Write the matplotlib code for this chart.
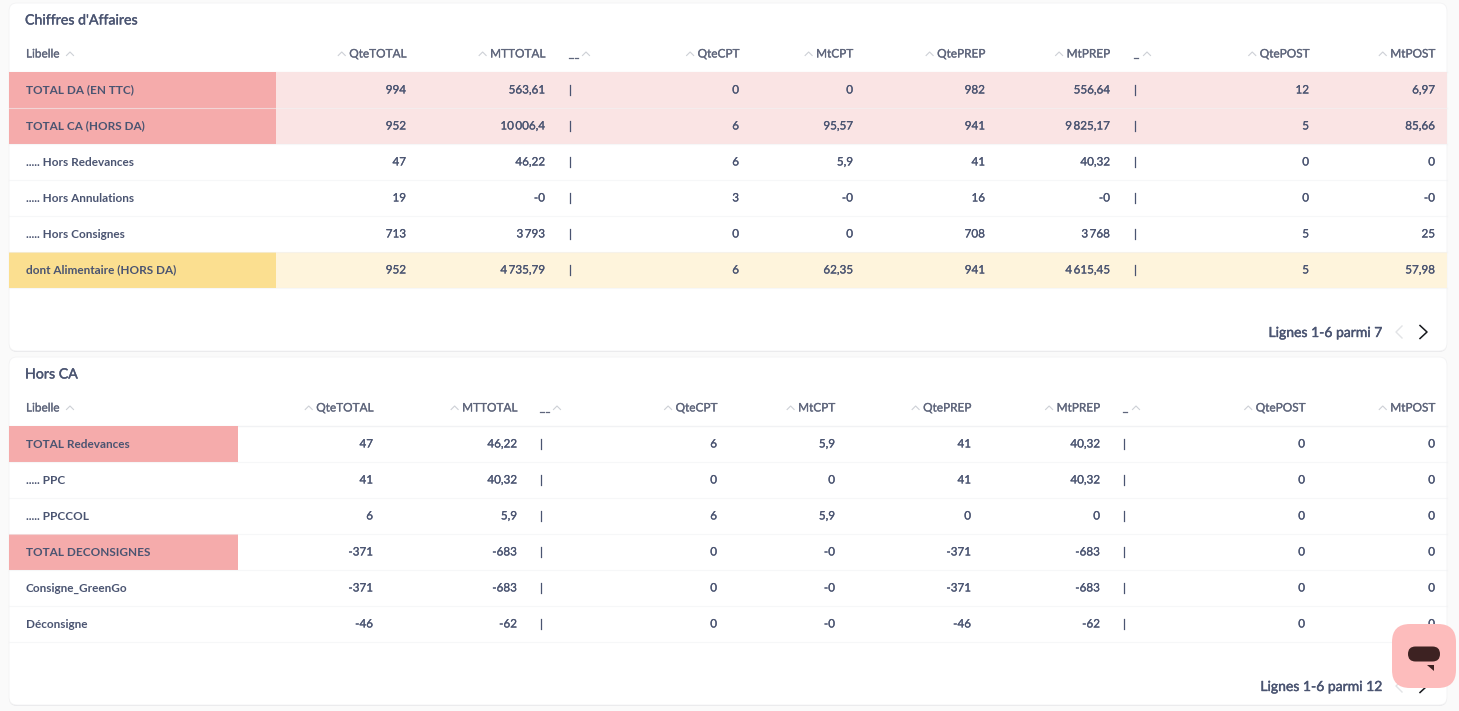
import matplotlib
matplotlib.use('Agg')
import matplotlib.pyplot as plt
import matplotlib.patheffects as pe
from matplotlib.patches import FancyBboxPatch, Rectangle, Polygon

plt.rcParams['font.family'] = ['Lato', 'DejaVu Sans']

TXT = '#4a5471'
HEAD = '#5f667c'
GRID = '#f1f2f4'

columns = ['QteTOTAL', 'MTTOTAL', '__', 'QteCPT', 'MtCPT', 'QtePREP', 'MtPREP', '_', 'QtePOST', 'MtPOST']

labels_ca = ['TOTAL DA (EN TTC)', 'TOTAL CA (HORS DA)', '..... Hors Redevances',
             '..... Hors Annulations', '..... Hors Consignes', 'dont Alimentaire (HORS DA)']
rows_ca = [
    ['994', '563,61', '|', '0', '0', '982', '556,64', '|', '12', '6,97'],
    ['952', '10\u2009006,4', '|', '6', '95,57', '941', '9\u2009825,17', '|', '5', '85,66'],
    ['47', '46,22', '|', '6', '5,9', '41', '40,32', '|', '0', '0'],
    ['19', '-0', '|', '3', '-0', '16', '-0', '|', '0', '-0'],
    ['713', '3\u2009793', '|', '0', '0', '708', '3\u2009768', '|', '5', '25'],
    ['952', '4\u2009735,79', '|', '6', '62,35', '941', '4\u2009615,45', '|', '5', '57,98'],
]
fills_ca = [('#f5abab', '#fae4e4'), ('#f5abab', '#fae4e4'), None, None, None, ('#fbdf90', '#fef4dc')]

labels_hca = ['TOTAL Redevances', '..... PPC', '..... PPCCOL', 'TOTAL DECONSIGNES',
              'Consigne_GreenGo', 'Déconsigne']
rows_hca = [
    ['47', '46,22', '|', '6', '5,9', '41', '40,32', '|', '0', '0'],
    ['41', '40,32', '|', '0', '0', '41', '40,32', '|', '0', '0'],
    ['6', '5,9', '|', '6', '5,9', '0', '0', '|', '0', '0'],
    ['-371', '-683', '|', '0', '-0', '-371', '-683', '|', '0', '0'],
    ['-371', '-683', '|', '0', '-0', '-371', '-683', '|', '0', '0'],
    ['-46', '-62', '|', '0', '-0', '-46', '-62', '|', '0', '0'],
]
fills_hca = [('#f5abab', None), None, None, ('#f5abab', None), None, None]

# right edge of each column (left edge for the separator ones)
xs_ca = [406, 545, 569, 739, 853, 985, 1110, 1134, 1309, 1435]
xs_hca = [373, 517, 540, 717, 835, 971, 1100, 1123, 1305, 1435]

fig = plt.figure(figsize=(14.59, 7.11), dpi=100, facecolor='#fafafa')
ax = fig.add_axes([0, 0, 1, 1])
ax.set_xlim(0, 1459)
ax.set_ylim(711, 0)
ax.axis('off')

# Lato only comes in regular and bold here, a thin stroke gets the medium look
def medium(color, w=0.18):
    return [pe.withStroke(linewidth=w, foreground=color)]


def caret(x, y):
    ax.plot([x - 3.5, x, x + 3.5], [y + 1.5, y - 2, y + 1.5], color='#cdd0d6', lw=0.8, zorder=5)


def draw_card(top, bottom, title, labels, rows, fills, xs, split, footer):
    # soft shadow then the white card
    ax.add_patch(FancyBboxPatch((9, top + 1), 1438, bottom - top, boxstyle='round,pad=0,rounding_size=8',
                                fc='#e6e6e9', ec='none', zorder=1))
    ax.add_patch(FancyBboxPatch((9, top), 1438, bottom - top, boxstyle='round,pad=0,rounding_size=8',
                                fc='white', ec='#f3f3f4', lw=0.6, zorder=2))
    ax.text(25, top + 17.5, title, fontsize=10.2, color=TXT, va='center', ha='left', zorder=6,
            path_effects=medium(TXT, 0.25))

    hy = top + 51
    ax.text(26, hy, 'Libelle', fontsize=8.5, color=HEAD, va='center', ha='left', zorder=6,
            path_effects=medium(HEAD))
    caret(70, hy)
    for name, x in zip(columns, xs):
        if name.startswith('_'):
            ax.text(x, hy, name, fontsize=8.5, color=HEAD, va='center', ha='left', zorder=6,
                    path_effects=medium(HEAD))
            caret(x + 17 if name == '__' else x + 13, hy)
        else:
            t = ax.text(x, hy, name, fontsize=8.5, color=HEAD, va='center', ha='right', zorder=6,
                        path_effects=medium(HEAD))
            w = t.get_window_extent(fig.canvas.get_renderer()).width
            caret(x - w - 7.5, hy)
    ax.plot([9, 1447], [top + 68.5, top + 68.5], color=GRID, lw=1, zorder=3)

    for i, (lab, row) in enumerate(zip(labels, rows)):
        y0 = top + 69 + 36 * i
        if fills[i]:
            left, rest = fills[i]
            ax.add_patch(Rectangle((9, y0), split - 9, 36, fc=left, ec='none', zorder=3))
            if rest:
                ax.add_patch(Rectangle((split, y0), 1447 - split, 36, fc=rest, ec='none', zorder=3))
        ax.plot([9, 1447], [y0 + 35.5, y0 + 35.5], color=GRID, lw=0.8, alpha=0.6, zorder=4)
        yc = y0 + 18
        ax.text(26, yc, lab, fontsize=8.45, color=TXT, va='center', ha='left', fontweight='bold', zorder=6)
        for name, val, x in zip(columns, row, xs):
            ha = 'left' if name.startswith('_') else 'right'
            ax.text(x, yc, val, fontsize=8.4, color=TXT, va='center', ha=ha, zorder=6,
                    path_effects=medium(TXT))

    fy = bottom - 19
    ax.text(1383, fy + 1, footer, fontsize=10.05, color=TXT, va='center', ha='right', zorder=6,
            path_effects=medium(TXT, 0.3))
    ax.plot([1402, 1396, 1402], [fy - 6, fy, fy + 6], color='#e2e3e6', lw=1, zorder=6)
    ax.plot([1420, 1427, 1420], [fy - 6.5, fy, fy + 6.5], color='#16181d', lw=1.1, zorder=6)


draw_card(3, 351, "Chiffres d'Affaires", labels_ca, rows_ca, fills_ca, xs_ca, 276,
          'Lignes 1-6 parmi 7')
draw_card(357, 705, 'Hors CA', labels_hca, rows_hca, fills_hca, xs_hca, 238,
          'Lignes 1-6 parmi 12')

# chat bubble in the corner
ax.add_patch(FancyBboxPatch((1392, 624), 64, 64, boxstyle='round,pad=0,rounding_size=18',
                            fc='#fdbcbc', ec='none', zorder=8))
ax.add_patch(FancyBboxPatch((1408, 646.5), 32, 15, boxstyle='round,pad=0,rounding_size=7.5',
                            fc='#3d2222', ec='none', zorder=9))
ax.add_patch(Polygon([[1427, 665], [1434, 665], [1434, 671]], fc='#3d2222', ec='none', zorder=9))

fig.savefig('out.png', dpi=100, facecolor=fig.get_facecolor())
